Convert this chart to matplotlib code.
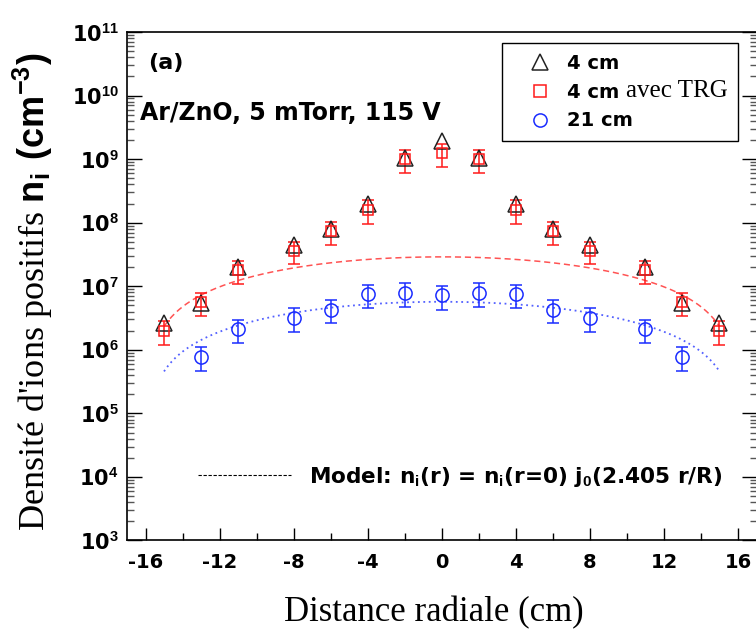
import numpy as np
import matplotlib
matplotlib.use("Agg")
import matplotlib.pyplot as plt
from matplotlib.lines import Line2D
from matplotlib.ticker import FixedLocator, LogLocator, FuncFormatter, NullFormatter

plt.rcParams['font.family'] = 'DejaVu Sans'
plt.rcParams['font.weight'] = 'bold'
plt.rcParams['mathtext.fontset'] = 'custom'
plt.rcParams['mathtext.bf'] = 'Liberation Sans:bold'
plt.rcParams['mathtext.rm'] = 'Liberation Serif'

# radial positions (cm)
r_4cm = [-15, -13, -11, -8, -6, -4, -2, 0, 2, 4, 6, 8, 11, 13, 15]
r_21cm = [-13, -11, -8, -6, -4, -2, 0, 2, 4, 6, 8, 11, 13]

# ion density (cm^-3)
n_4cm = [2.6e6, 5.5e6, 2.0e7, 4.5e7, 8.0e7, 2.0e8, 1.03e9, 1.9e9,
         1.03e9, 2.0e8, 8.0e7, 4.5e7, 2.0e7, 5.5e6, 2.6e6]
n_trg = [2.0e6, 5.6e6, 1.8e7, 3.6e7, 7.4e7, 1.6e8, 1.0e9, 1.25e9,
         1.0e9, 1.6e8, 7.4e7, 3.6e7, 1.8e7, 5.6e6, 2.0e6]
err_trg = [8e5, 2.2e6, 7e6, 1.4e7, 3e7, 6.4e7, 4e8, 5e8,
           4e8, 6.4e7, 3e7, 1.4e7, 7e6, 2.2e6, 8e5]
n_21cm = [7.8e5, 2.1e6, 3.2e6, 4.3e6, 7.5e6, 7.9e6, 7.2e6,
          7.9e6, 7.5e6, 4.3e6, 3.2e6, 2.1e6, 7.8e5]
err_21cm = [3.1e5, 8.4e5, 1.3e6, 1.7e6, 3.0e6, 3.2e6, 2.9e6,
            3.2e6, 3.0e6, 1.7e6, 1.3e6, 8.4e5, 3.1e5]

# Bessel model parameters
n0_trg = 2.9e7
n0_21cm = 5.7e6
R_cm = 16.0


def j0(x):
    """Bessel J0 from its power series"""
    x = np.asarray(x, dtype=float)
    out = np.zeros_like(x)
    term = np.ones_like(x)
    for k in range(40):
        if k > 0:
            term = term * (-(x / 2.0) ** 2) / (k * k)
        out += term
    return out


red = '#ff1a1a'
blue = '#1a2cff'

fig = plt.figure(figsize=(7.56, 6.29), dpi=100)
ax = fig.add_axes([0.168, 0.1407, 0.8327, 0.8084])

r_model = np.linspace(-15, 15, 300)
ax.plot(r_model, n0_trg * j0(2.405 * r_model / R_cm), ls=(0, (4, 2.5)),
        color=red, lw=1.1, alpha=0.75)
ax.plot(r_model, n0_21cm * j0(2.405 * r_model / R_cm), ls=(0, (1, 2)),
        color=blue, lw=1.3, alpha=0.75)

ax.errorbar(r_4cm, n_trg, yerr=err_trg, fmt='s', ms=7.5, mfc='none',
            mec=red, mew=1.1, ecolor=red, elinewidth=1.1, capsize=4, capthick=1.1)
ax.plot(r_4cm, n_4cm, '^', ms=11, mfc='none', mec='#222222', mew=1.1)
ax.errorbar(r_21cm, n_21cm, yerr=err_21cm, fmt='o', ms=9.5, mfc='none',
            mec=blue, mew=1.1, ecolor=blue, elinewidth=1.1, capsize=4, capthick=1.1)

ax.set_yscale('log')
ax.set_xlim(-17, 17)
ax.set_ylim(1e3, 1e11)

ax.xaxis.set_major_locator(FixedLocator(range(-16, 17, 4)))
ax.xaxis.set_minor_locator(FixedLocator(range(-14, 17, 4)))
ax.yaxis.set_major_locator(LogLocator(base=10, numticks=20))
ax.yaxis.set_minor_locator(LogLocator(base=10, subs=np.arange(2, 10), numticks=20))
ax.yaxis.set_minor_formatter(NullFormatter())
ax.yaxis.set_major_formatter(FuncFormatter(
    lambda v, p: r'10$^{\mathbf{%d}}$' % round(np.log10(v))))
ax.xaxis.set_major_formatter(FuncFormatter(lambda v, p: '%d' % v))

ax.tick_params(axis='both', which='both', direction='in', top=False, right=True)
ax.tick_params(axis='y', which='major', length=11, width=1, labelsize=15, pad=6)
ax.tick_params(axis='y', which='minor', length=5, width=1, color='#555555')
ax.tick_params(axis='x', which='major', length=9, width=1, labelsize=14, pad=9)
ax.tick_params(axis='x', which='minor', length=5, width=1)
for s in ax.spines.values():
    s.set_linewidth(1.2)

ax.set_xlabel('Distance radiale (cm)', family='Liberation Serif',
              fontweight='normal', fontsize=25)
ax.xaxis.set_label_coords(0.488, -0.11)
ax.set_ylabel(r"Densité d'ions positifs $\mathbf{n_i\ (cm^{-3})}$",
              family='Liberation Serif', fontweight='normal', fontsize=26)
ax.yaxis.set_label_coords(-0.115, 0.489)

ax.text(0.034, 0.94, '(a)', transform=ax.transAxes, fontsize=16, va='center')
ax.text(0.02, 0.84, 'Ar/ZnO, 5 mTorr, 115 V', transform=ax.transAxes,
        fontsize=17, va='center')

handles = [
    Line2D([], [], ls='none', marker='^', ms=11, mfc='none', mec='#222222', mew=1.1),
    Line2D([], [], ls='none', marker='s', ms=8, mfc='none', mec=red, mew=1.1),
    Line2D([], [], ls='none', marker='o', ms=9.5, mfc='none', mec=blue, mew=1.1),
]
# second label leaves room for the serif "avec TRG" drawn next to it
labels = ['4 cm', '4 cm' + ' ' * 16, '21 cm']
leg = ax.legend(handles, labels, loc='upper right', bbox_to_anchor=(0.9706, 0.978),
                borderaxespad=0, fancybox=False, edgecolor='black', framealpha=1,
                prop={'weight': 'bold', 'size': 14}, labelspacing=0.5,
                handletextpad=0.0, borderpad=0.55, handlelength=2.8)
leg.get_frame().set_linewidth(1.0)
ax.add_artist(leg)
leg_texts = leg.get_texts()
ax.annotate('avec TRG', xy=(1.0, 0.0), xycoords=(leg_texts[0], leg_texts[1]),
            xytext=(5, 3.2), textcoords='offset points', ha='left', va='baseline',
            family='Liberation Serif', fontweight='normal', fontsize=18,
            annotation_clip=False, zorder=7)

model_handle = Line2D([], [], ls=(0, (3, 1.5)), color='black', lw=0.8)
ax.legend([model_handle],
          [r'Model: n$_\mathbf{i}$(r) = n$_\mathbf{i}$(r=0) j$_\mathbf{0}$(2.405 r/R)'],
          loc='center left', bbox_to_anchor=(0.113, 0.125), frameon=False,
          borderpad=0, borderaxespad=0,
          prop={'weight': 'bold', 'size': 15.6}, handlelength=4.3, handletextpad=0.8)

fig.savefig('out.png', dpi=100)
